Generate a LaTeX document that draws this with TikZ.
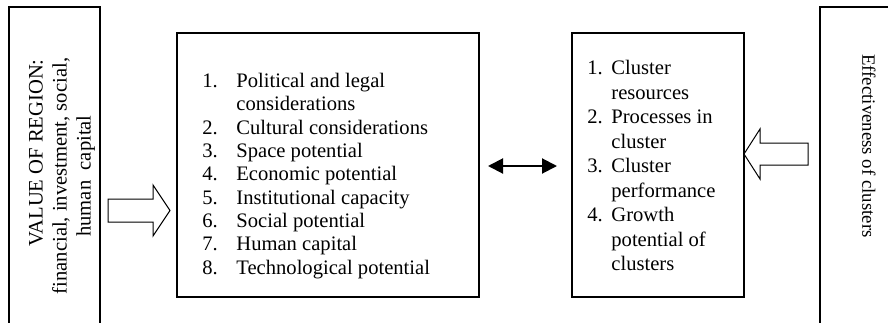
\documentclass[tikz,border=0pt]{standalone}
\usepackage{fontspec}
\setmainfont{Liberation Serif}
\usetikzlibrary{arrows.meta}
\tikzset{
  boxline/.style={draw, line width=1pt, inner sep=0pt},
  hollow/.style={draw, line width=0.5pt, fill=white, line join=miter},
  listtext/.style={inner sep=0pt, align=left, anchor=north west},
}
\newcommand{\numA}[1]{\makebox[17pt][l]{#1}}
\newcommand{\numB}[1]{\makebox[12pt][l]{#1}}
\begin{document}
\begin{tikzpicture}[x=0.5pt, y=-0.5pt]
\useasboundingbox (0,0) rectangle (888,322);
\clip (0,0) rectangle (888,322);
% boxes
\node[boxline, minimum width=45.5pt, minimum height=166.5pt] (valbox) at (54.5,173.5) {};
\node[boxline, minimum width=151pt, minimum height=132pt] (mid) at (328,165) {};
\node[boxline, minimum width=86pt, minimum height=132pt] (clu) at (658,165) {};
\node[boxline, minimum width=48pt, minimum height=166.5pt] (eff) at (868,173.5) {};
% left text
\node[rotate=90, align=center, inner sep=0pt, font=\fontsize{10.3}{12}\selectfont] (valtext) at (62,176)
  {\hspace*{23pt}VALUE OF REGION:\\ financial, investment, social,\\ human~ capital};
% right text
\node[rotate=-90, inner sep=0pt, font=\fontsize{9.4}{12}\selectfont] (efftext) at (869,146) {Effectiveness of clusters};
% middle list
\node[listtext, font=\fontsize{10.3}{11.65}\selectfont] (midlist) at (202,73) {%
\numA{1.}Political and legal\\
\numA{}considerations\\
\numA{2.}Cultural considerations\\
\numA{3.}Space potential\\
\numA{4.}Economic potential\\
\numA{5.}Institutional capacity\\
\numA{6.}Social potential\\
\numA{7.}Human capital\\
\numA{8.}Technological potential};
% right list
\node[listtext, font=\fontsize{10.3}{12.25}\selectfont] (clulist) at (587,60) {%
\numB{1.}Cluster\\
\numB{}resources\\
\numB{2.}Processes in\\
\numB{}cluster\\
\numB{3.}Cluster\\
\numB{}performance\\
\numB{4.}Growth\\
\numB{}potential of\\
\numB{}clusters};
% hollow arrows
\draw[hollow] (108,199) -- (153,199) -- (153,185) -- (170,210.5) -- (153,236) -- (153,222) -- (108,222) -- cycle;
\draw[hollow] (808,143) -- (760,143) -- (760,129) -- (744,154) -- (760,179) -- (760,165) -- (808,165) -- cycle;
% double arrow
\coordinate (da1) at (488,166);
\coordinate (da2) at (557,166);
\draw[line width=1pt, {Triangle[length=7.5pt,width=7.5pt]}-{Triangle[length=7.5pt,width=7.5pt]}] (da1) -- (da2);
\end{tikzpicture}
\end{document}
